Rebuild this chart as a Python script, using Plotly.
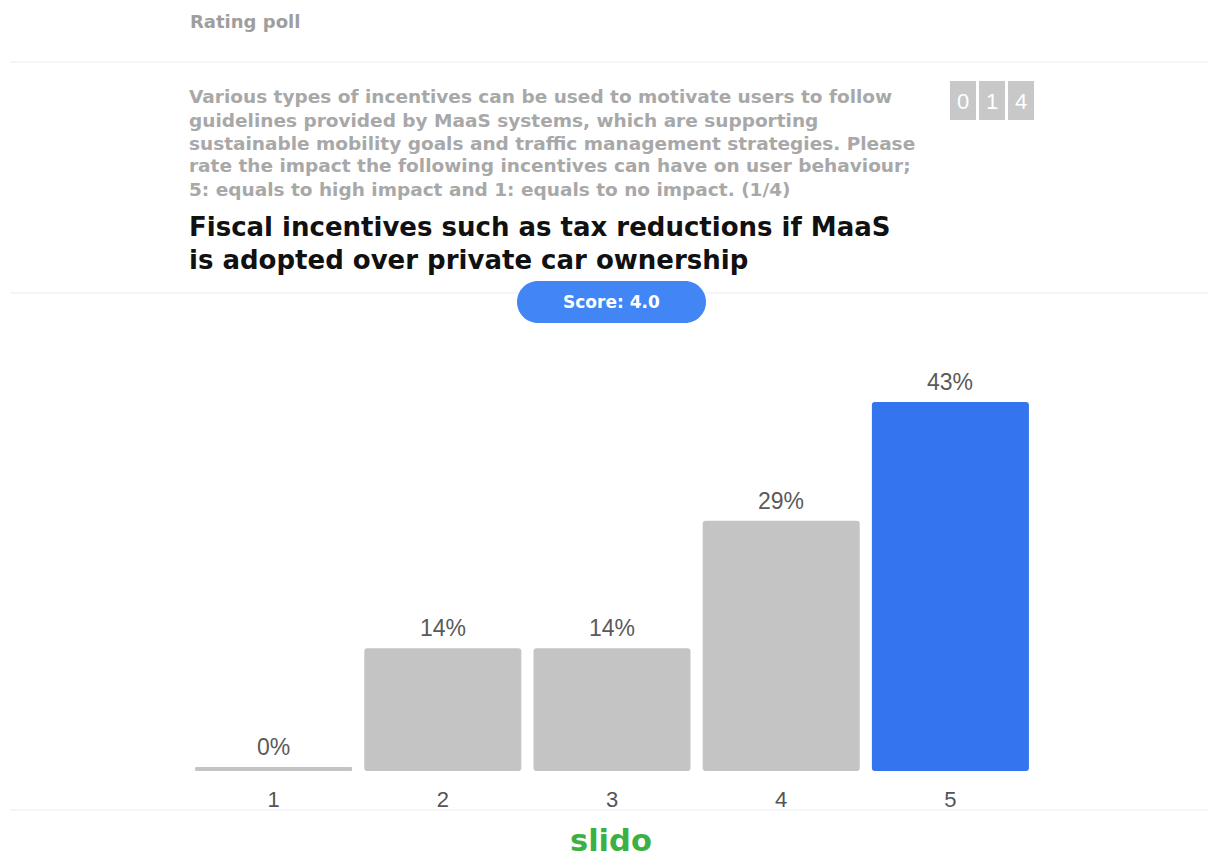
import plotly.graph_objects as go

# Poll results
ratings = ["1", "2", "3", "4", "5"]
percentages = [0, 14, 14, 29, 43]
score_text = "Score: 4.0"
respondents = "014"

header = "Rating poll"
description_lines = [
    "Various types of incentives can be used to motivate users to follow",
    "guidelines provided by MaaS systems, which are supporting",
    "sustainable mobility goals and traffic management strategies. Please",
    "rate the impact the following incentives can have on user behaviour;",
    "5: equals to high impact and 1: equals to no impact. (1/4)",
]
question_lines = [
    "Fiscal incentives such as tax reductions if MaaS",
    "is adopted over private car ownership",
]

W, H = 1208, 858
ML, MR, MT, MB = 189, 173, 340, 87
PW, PH = W - ML - MR, H - MT - MB

GREY = "#c4c4c4"
BLUE = "#3474ee"
FLOOR = 0.47  # thin stub so empty options remain visible
SANS = "DejaVu Sans"
ARIAL = "Liberation Sans, Arial"


def px_x(x):
    return (x - ML) / PW


def px_y(y):
    return (H - MB - y) / PH


top = max(percentages)
colors = [BLUE if v == top else GREY for v in percentages]

fig = go.Figure()
fig.add_trace(go.Bar(
    x=ratings,
    y=[v + FLOOR for v in percentages],
    base=-FLOOR,
    marker=dict(color=colors, cornerradius=3, line=dict(width=0)),
    hoverinfo="skip",
))

annotations = []
for i, v in enumerate(percentages):
    annotations.append(dict(
        x=i, y=v, xref="x", yref="y", text=f"{v}%", showarrow=False,
        yanchor="bottom", yshift=5,
        font=dict(family=ARIAL, size=23, color="#5a5a5a"),
    ))

annotations.append(dict(
    x=px_x(188), y=px_y(21), xref="paper", yref="paper", text=f"<b>{header}</b>",
    showarrow=False, xanchor="left", yanchor="middle",
    font=dict(family=SANS, size=18, color="#9e9e9e"),
))
for j, line in enumerate(description_lines):
    annotations.append(dict(
        x=px_x(187), y=px_y(97 + j * 23), xref="paper", yref="paper",
        text=f"<b>{line}</b>", showarrow=False, align="left",
        xanchor="left", yanchor="middle",
        font=dict(family=SANS, size=18.5, color="#a8a8a8"),
    ))
for j, line in enumerate(question_lines):
    annotations.append(dict(
        x=px_x(187), y=px_y(227 + j * 33), xref="paper", yref="paper",
        text=f"<b>{line}</b>", showarrow=False,
        align="left", xanchor="left", yanchor="middle",
        font=dict(family=SANS, size=26, color="#111111"),
    ))
annotations.append(dict(
    x=px_x(611.5), y=px_y(302), xref="paper", yref="paper",
    text="<b>" + score_text + "</b>", showarrow=False,
    xanchor="center", yanchor="middle",
    font=dict(family=SANS, size=17, color="#ffffff"),
))
annotations.append(dict(
    x=px_x(611), y=px_y(840), xref="paper", yref="paper", text="<b>slido</b>",
    showarrow=False, xanchor="center", yanchor="middle",
    font=dict(family=SANS, size=30.5, color="#3cb043"),
))

shapes = []
# separator lines
for yy in (62, 293, 810):
    shapes.append(dict(
        type="line", xref="paper", yref="paper",
        x0=px_x(10), x1=px_x(1208), y0=px_y(yy), y1=px_y(yy),
        line=dict(color="#eef2f7", width=1.5), layer="below",
    ))

# score pill
k = 11.6
shapes.append(dict(
    type="path", xref="paper", yref="paper", xsizemode="pixel", ysizemode="pixel",
    xanchor=px_x(611.5), yanchor=px_y(302),
    path=(f"M -73.5,-21 L 73.5,-21 C {73.5 + k},-21 94.5,{-k} 94.5,0 "
          f"C 94.5,{k} {73.5 + k},21 73.5,21 L -73.5,21 "
          f"C {-73.5 - k},21 -94.5,{k} -94.5,0 C -94.5,{-k} {-73.5 - k},-21 -73.5,-21 Z"),
    fillcolor="#4285f4", line=dict(width=0),
))

# respondent counter boxes
for i, digit in enumerate(respondents):
    x0 = 950 + i * 29
    shapes.append(dict(
        type="rect", xref="paper", yref="paper",
        x0=px_x(x0), x1=px_x(x0 + 26), y0=px_y(81), y1=px_y(120),
        fillcolor="#c8c8c8", line=dict(width=0),
    ))
    annotations.append(dict(
        x=px_x(x0 + 13), y=px_y(101), xref="paper", yref="paper", text=digit,
        showarrow=False, xanchor="center", yanchor="middle",
        font=dict(family=ARIAL, size=22, color="#ffffff"),
    ))

fig.update_layout(
    width=W, height=H,
    margin=dict(l=ML, r=MR, t=MT, b=MB),
    paper_bgcolor="#ffffff", plot_bgcolor="#ffffff",
    bargap=0.072, showlegend=False,
    xaxis=dict(
        type="category", range=[-0.5, 4.5], showgrid=False, zeroline=False,
        showline=False, ticks="", ticklabelstandoff=13,
        tickfont=dict(family=ARIAL, size=22, color="#555555"),
    ),
    yaxis=dict(range=[-FLOOR, 50.3], visible=False, fixedrange=True),
    annotations=annotations, shapes=shapes,
)

fig.write_html("out.html")
